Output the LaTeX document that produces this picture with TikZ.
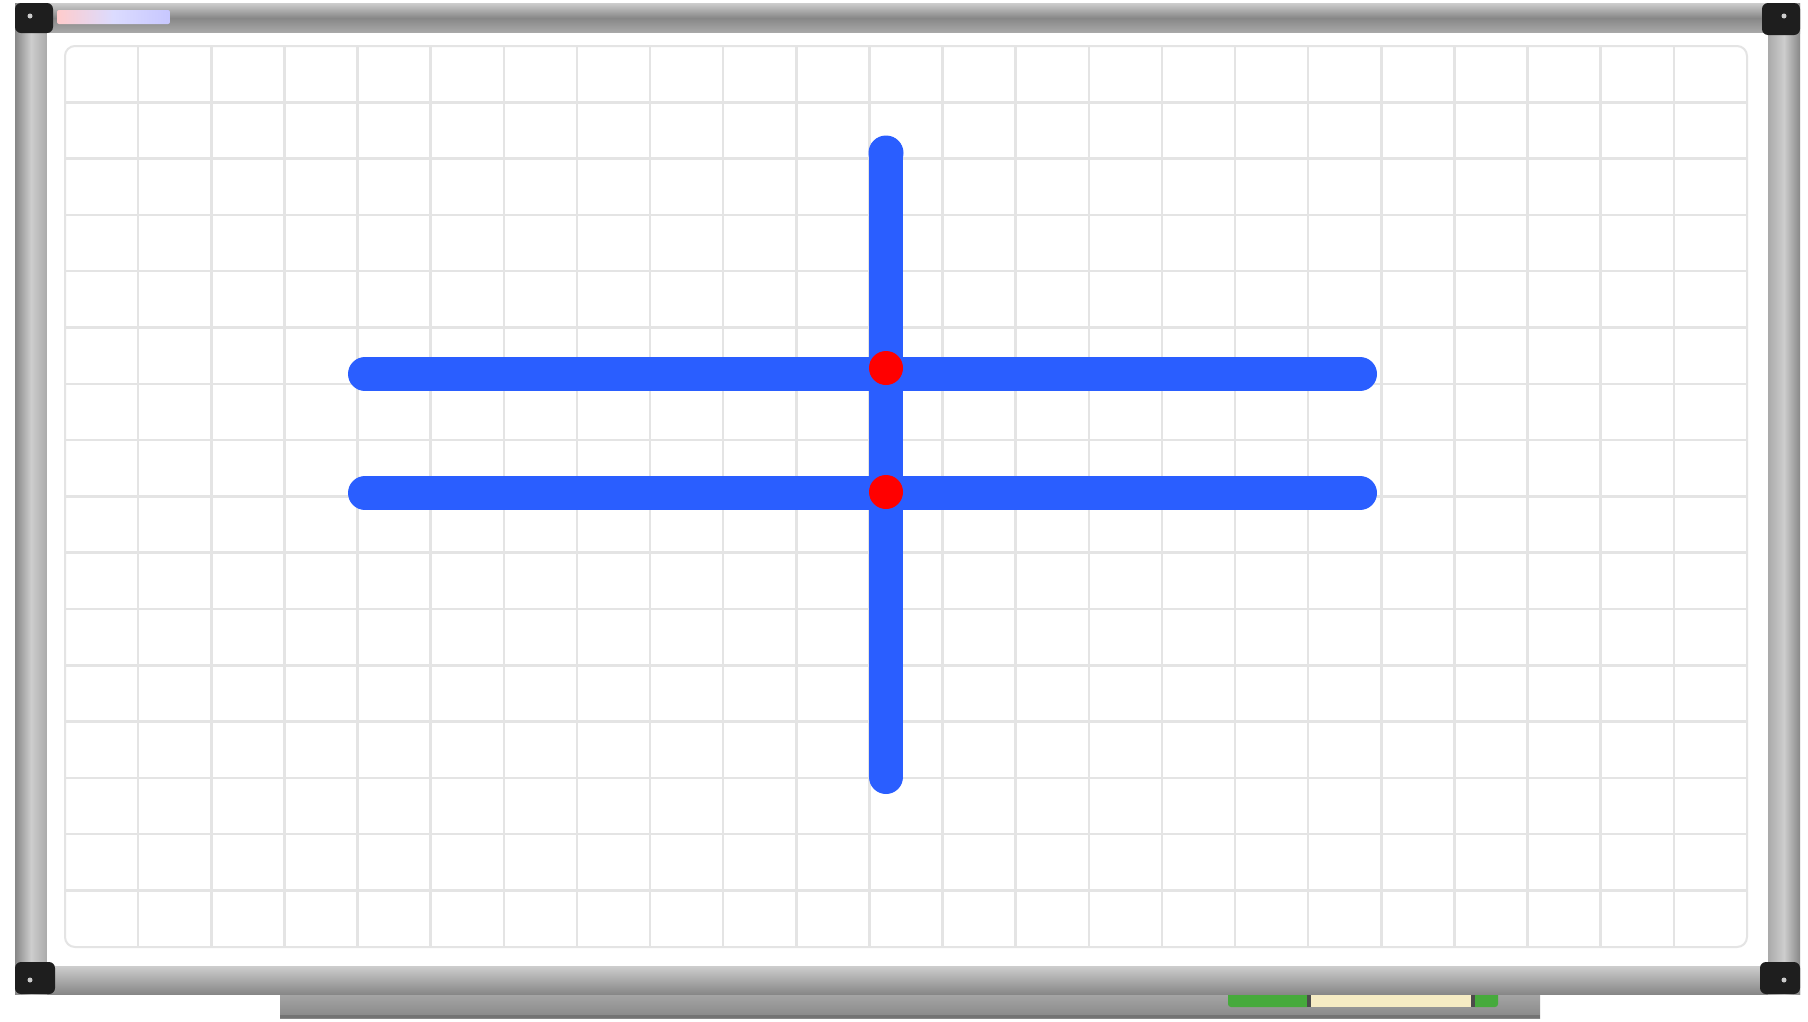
\documentclass[tikz,border=0pt]{standalone}
\definecolor{penblue}{RGB}{42,94,255}
\definecolor{penred}{RGB}{255,0,0}
\definecolor{gridgray}{RGB}{228,228,228}
\definecolor{frlight}{RGB}{205,205,205}
\definecolor{frmid}{RGB}{170,170,170}
\definecolor{frdark}{RGB}{135,135,135}
\definecolor{cornerblack}{RGB}{30,30,30}
\definecolor{markgreen}{RGB}{70,170,60}
\definecolor{markcream}{RGB}{245,235,195}
\tikzset{
  gridline/.style={draw=gridgray, line width=2.5pt},
  penline/.style={draw=penblue, line width=34pt, line cap=round},
  reddot/.style={circle, fill=penred, minimum size=34pt, inner sep=0pt},
  corner/.style={fill=cornerblack, rounded corners=6pt},
  cornerdot/.style={fill=white!80!black}
}
\begin{document}
\begin{tikzpicture}[x=1pt,y=-1pt]
\useasboundingbox (0,0) rectangle (1808,1021);
\fill[white] (0,0) rectangle (1808,1021);
% tray
\shade[top color=frmid, bottom color=frdark] (280,990) rectangle (1540,1018);
\fill[frdark!85!black] (280,1015) rectangle (1540,1018);
% marker
\fill[markgreen, rounded corners=3pt] (1228,990) rectangle (1310,1007);
\fill[markcream] (1309,990) rectangle (1473,1007);
\fill[markgreen, rounded corners=3pt] (1472,990) rectangle (1498,1007);
\fill[black!70] (1307,990) rectangle (1311,1007);
\fill[black!70] (1471,990) rectangle (1475,1007);
% frame bars
\shade[top color=frlight, bottom color=frmid, middle color=frdark] (15,3) rectangle (1800,33);
\shade[top color=frlight, bottom color=frdark, middle color=frmid] (15,966) rectangle (1800,994);
\shade[left color=frdark, right color=frmid, middle color=frlight] (15,3) rectangle (47,994);
\shade[left color=frmid, right color=frdark, middle color=frlight] (1768,3) rectangle (1800,994);
% board surface
\fill[white] (47,33) rectangle (1768,966);
% label sticker
\shade[left color=red!20, right color=blue!22, middle color=blue!14, rounded corners=2pt] (57,10) rectangle (170,24);
% grid
\foreach \i in {1,...,22} \draw[gridline] ({65+73.13*\i},46) -- ({65+73.13*\i},947);
\foreach \j in {1,...,15} \draw[gridline] (65,{46+56.3*\j}) -- (1747,{46+56.3*\j});
\draw[draw=gridgray, line width=2pt, rounded corners=10pt] (65,46) rectangle (1747,947);
% corners
\fill[corner] (15,3) rectangle (53,33);
\fill[cornerdot] (30,16) circle (2.5);
\fill[corner] (1762,3) rectangle (1800,35);
\fill[cornerdot] (1784,16) circle (2.5);
\fill[corner] (15,962) rectangle (55,994);
\fill[cornerdot] (30,980) circle (2.5);
\fill[corner] (1760,962) rectangle (1800,994);
\fill[cornerdot] (1784,980) circle (2.5);
% pen strokes
\coordinate (vtop) at (886,153);
\coordinate (vbot) at (886,777);
\coordinate (h1l) at (365,374);
\coordinate (h1r) at (1360,374);
\coordinate (h2l) at (365,493);
\coordinate (h2r) at (1360,493);
\draw[penline] (vtop) -- (vbot);
\fill[penblue] (vtop) circle (17.5);
\draw[penline] (h1l) -- (h1r);
\draw[penline] (h2l) -- (h2r);
\node[reddot] (d1) at (886,368) {};
\node[reddot] (d2) at (886,492) {};
\end{tikzpicture}
\end{document}
